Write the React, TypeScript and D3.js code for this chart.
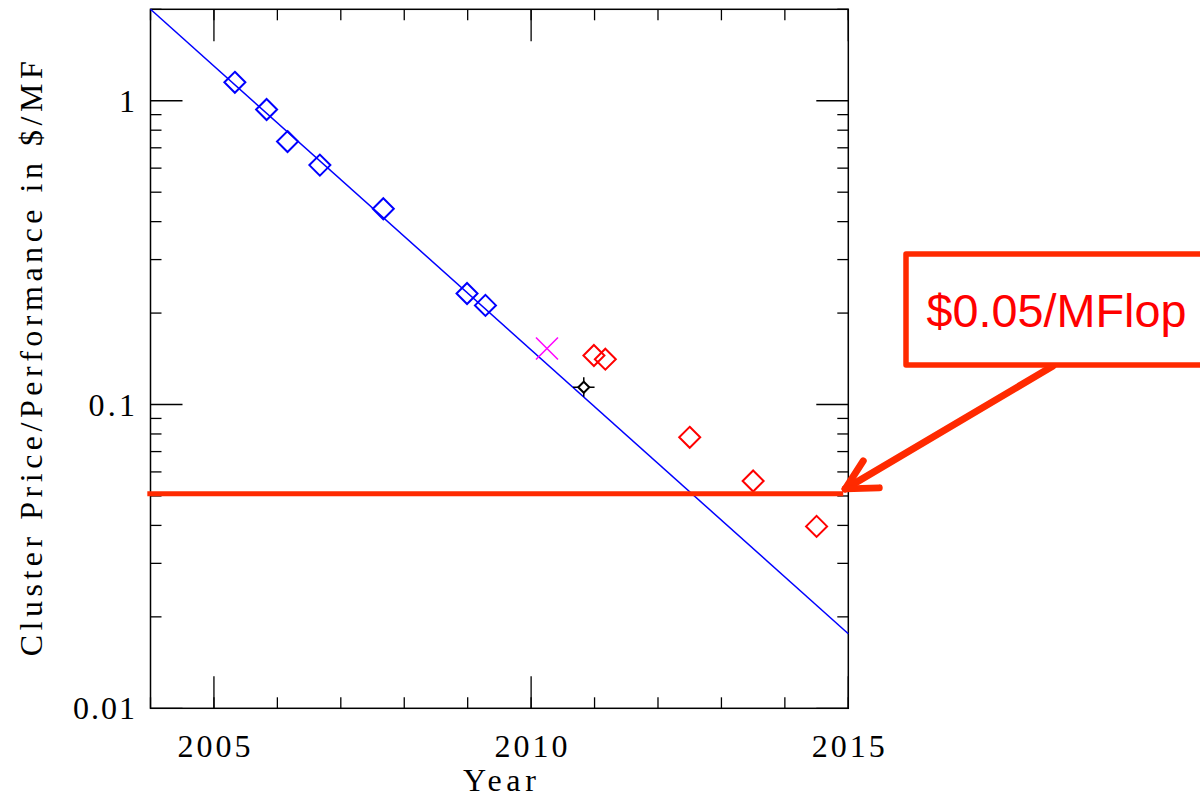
import * as d3 from 'd3';

// fitted trend (two end points, year / $ per MFlop)
const fitYears = [2004, 2015];
const fitValues = [2.0, 0.0176];

// measured clusters before 2010 (blue)
const blueYears = [2005.33, 2005.83, 2006.16, 2006.67, 2007.67, 2008.99, 2009.28];
const blueValues = [1.15, 0.936, 0.734, 0.614, 0.441, 0.232, 0.212];

// later clusters (red)
const redYears = [2010.99, 2011.17, 2012.5, 2013.5, 2014.5];
const redValues = [0.145, 0.141, 0.078, 0.056, 0.0397];

// single magenta cross
const crossYears = [2010.25];
const crossValues = [0.153];

// small black point with error bars
const blackYears = [2010.83];
const blackValues = [0.114];
const blackYearErr = [0.17];
const blackLow = [0.106];
const blackHigh = [0.123];

// target line
const targetValue = 0.0508;
const targetYears = [2003.95, 2014.92];
const targetLabel = '$0.05/MFlop';

const xMajor = [2005, 2010, 2015];
const xMinor = [2004, 2005, 2006, 2007, 2008, 2009, 2010, 2011, 2012, 2013, 2014, 2015];
const yMajor = [0.01, 0.1, 1];
const yMajorLabels = ['0.01', '0.1', '1'];
const yMinor = [0.02, 0.03, 0.04, 0.05, 0.06, 0.07, 0.08, 0.09, 0.2, 0.3, 0.4, 0.5, 0.6, 0.7, 0.8, 0.9, 2];

const W = 1200;
const H = 799;
const left = 150.5;
const right = 848.3;
const top = 9.3;
const bottom = 708.3;

const serif = '"Liberation Serif", "DejaVu Serif", serif';
const lineRed = '#ff2a00';

const diamond = (cx: number, cy: number, r: number) =>
  `M${cx},${cy - r}L${cx + r},${cy}L${cx},${cy + r}L${cx - r},${cy}Z`;

const App = () => {
  const x = d3.scaleLinear().domain([2004, 2015]).range([left, right]);
  const y = d3.scaleLog().domain([0.01, 2]).range([bottom, top]);

  const fitLine = d3
    .line<number>()
    .x((d, i) => x(fitYears[i]))
    .y((d) => y(d))(fitValues);

  const majorLen = 32;
  const minorLen = 11;

  const tipX = x(targetYears[1]) + 2;
  const tipY = y(targetValue) - 5;

  return (
    <svg
      width={W}
      height={H}
      style={{ position: 'absolute', left: 0, top: 0, display: 'block', background: '#fff' }}
    >
      <rect x={0} y={0} width={W} height={H} fill="#fff" />

      {/* frame ticks */}
      <g stroke="#000" strokeWidth={1.3}>
        {xMinor.map((t) => (
          <g key={'xm' + t}>
            <line x1={x(t)} x2={x(t)} y1={bottom} y2={bottom - minorLen} />
            <line x1={x(t)} x2={x(t)} y1={top} y2={top + minorLen} />
          </g>
        ))}
        {xMajor.map((t) => (
          <g key={'xM' + t}>
            <line x1={x(t)} x2={x(t)} y1={bottom} y2={bottom - majorLen} />
            <line x1={x(t)} x2={x(t)} y1={top} y2={top + majorLen} />
          </g>
        ))}
        {yMinor.map((t) => (
          <g key={'ym' + t}>
            <line x1={left} x2={left + minorLen} y1={y(t)} y2={y(t)} />
            <line x1={right} x2={right - minorLen} y1={y(t)} y2={y(t)} />
          </g>
        ))}
        {yMajor.map((t) => (
          <g key={'yM' + t}>
            <line x1={left} x2={left + majorLen} y1={y(t)} y2={y(t)} />
            <line x1={right} x2={right - majorLen} y1={y(t)} y2={y(t)} />
          </g>
        ))}
        <rect x={left} y={top} width={right - left} height={bottom - top} fill="none" strokeWidth={1.5} />
      </g>

      {/* tick labels */}
      <g fontFamily={serif} fontSize={32} fill="#000">
        {xMajor.map((t) => (
          <text key={'xl' + t} x={x(t)} y={757} textAnchor="middle" textLength={73} lengthAdjust="spacing">
            {t}
          </text>
        ))}
        {yMajor.map((t, i) => (
          <text
            key={'yl' + t}
            x={135}
            y={y(t) + 11}
            textAnchor="end"
            {...(yMajorLabels[i].length > 1
              ? { textLength: yMajorLabels[i].length * 15.5, lengthAdjust: 'spacing' }
              : {})}
          >
            {yMajorLabels[i]}
          </text>
        ))}
        <text x={(left + right) / 2} y={791} textAnchor="middle" textLength={73} lengthAdjust="spacing">
          Year
        </text>
        <text
          transform={`translate(42,${(top + bottom) / 2}) rotate(-90)`}
          textAnchor="middle"
          textLength={595}
          lengthAdjust="spacing"
        >
          Cluster Price/Performance in $/MF
        </text>
      </g>

      {/* fit */}
      <path d={fitLine ?? ''} fill="none" stroke="#0000ff" strokeWidth={1.5} />

      {/* blue diamonds */}
      <g fill="none" stroke="#0000ff" strokeWidth={2}>
        {blueValues.map((v, i) => (
          <path key={'b' + i} d={diamond(x(blueYears[i]), y(v), 10.5)} />
        ))}
      </g>

      {/* red diamonds */}
      <g fill="none" stroke="#ff0000" strokeWidth={2}>
        {redValues.map((v, i) => (
          <path key={'r' + i} d={diamond(x(redYears[i]), y(v), 10.5)} />
        ))}
      </g>

      {/* magenta cross */}
      <g stroke="#ff00ff" strokeWidth={1.5}>
        {crossValues.map((v, i) => {
          const cx = x(crossYears[i]);
          const cy = y(v);
          return (
            <g key={'c' + i}>
              <line x1={cx - 11} y1={cy - 11} x2={cx + 11} y2={cy + 11} />
              <line x1={cx - 11} y1={cy + 11} x2={cx + 11} y2={cy - 11} />
            </g>
          );
        })}
      </g>

      {/* black point */}
      <g stroke="#000" strokeWidth={1.5} fill="none">
        {blackValues.map((v, i) => {
          const cx = x(blackYears[i]);
          const cy = y(v);
          return (
            <g key={'k' + i}>
              <line x1={x(blackYears[i] - blackYearErr[i])} x2={x(blackYears[i] + blackYearErr[i])} y1={cy} y2={cy} />
              <line x1={cx} x2={cx} y1={y(blackLow[i])} y2={y(blackHigh[i])} />
              <path d={diamond(cx, cy, 5.5)} fill="#fff" strokeWidth={2} />
            </g>
          );
        })}
      </g>

      {/* target line */}
      <line
        x1={x(targetYears[0])}
        x2={x(targetYears[1])}
        y1={y(targetValue)}
        y2={y(targetValue)}
        stroke={lineRed}
        strokeWidth={5}
      />

      {/* callout */}
      <g stroke={lineRed} strokeWidth={7} strokeLinecap="round" fill="none">
        <line x1={1053} y1={366} x2={tipX} y2={tipY} />
        <line x1={tipX} y1={tipY} x2={tipX + 18} y2={tipY - 28} />
        <line x1={tipX} y1={tipY} x2={tipX + 34} y2={tipY - 1} />
      </g>
      <rect
        x={906}
        y={254}
        width={320}
        height={111}
        fill="#fff"
        stroke={lineRed}
        strokeWidth={5.5}
        strokeLinejoin="round"
      />
      <text
        x={926.5}
        y={327}
        fontFamily='"Liberation Sans", Arial, sans-serif'
        fontSize={47}
        fill="#ff0000"
        textLength={260}
        lengthAdjust="spacingAndGlyphs"
      >
        {targetLabel}
      </text>
    </svg>
  );
};

export default App;
